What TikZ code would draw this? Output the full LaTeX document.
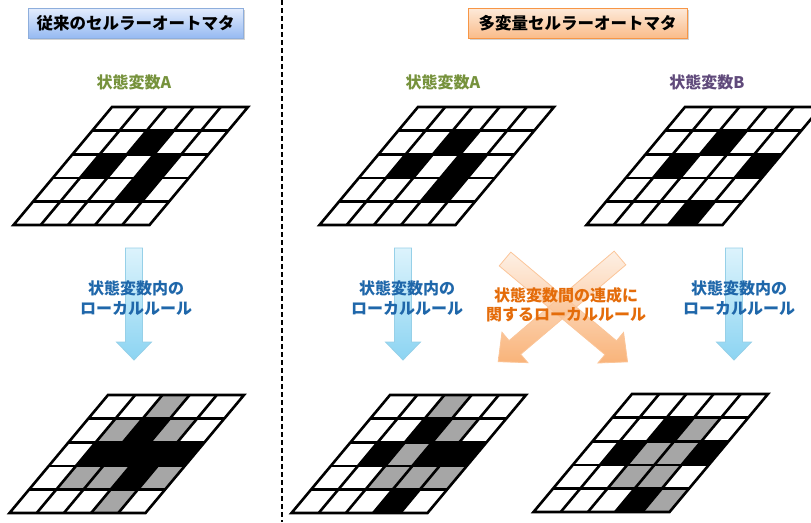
\documentclass[tikz,border=0pt]{standalone}
\usepackage{fontspec}
\newfontfamily\jpfont{Noto Sans CJK JP}
\usetikzlibrary{shadows}

\definecolor{varA}{RGB}{118,146,60}
\definecolor{varB}{RGB}{96,74,123}
\definecolor{cellgray}{RGB}{166,166,166}
\definecolor{ruleblue}{RGB}{31,103,170}
\definecolor{ruleorange}{RGB}{228,108,10}
\definecolor{blueline}{RGB}{142,174,220}
\definecolor{orangeline}{RGB}{247,150,70}

\tikzset{
  titlebox/.style={
    rectangle,
    line width=0.8pt,
    minimum height=30pt,
    inner sep=0pt,
    font=\jpfont\bfseries\fontsize{16.5}{20}\selectfont,
    drop shadow={opacity=.35, shadow xshift=1.5pt, shadow yshift=-2pt}},
  varlabel/.style={font=\jpfont\bfseries\fontsize{16}{19}\selectfont},
  rulelabel/.style={align=center, font=\jpfont\bfseries\fontsize{16}{19.5}\selectfont},
  gridline/.style={line width=2.6pt},
  divider/.style={line width=2pt, dash pattern=on 5pt off 3pt},
  inrule/.style={
    draw={rgb,255:red,150;green,208;blue,232}, line width=.8pt,
    top color={rgb,255:red,220;green,243;blue,252},
    bottom color={rgb,255:red,140;green,212;blue,242}},
  crossrule/.style={
    draw=orangeline!55, line width=.8pt,
    top color=orangeline!18, bottom color=orangeline!90,
    fill opacity=.8},
  % length, shaft width, head width, head length
  pics/blockarrow/.style n args={4}{code={
    \path[pic actions] (0,-#2/2) -- (#1-#4,-#2/2) -- (#1-#4,-#3/2) -- (#1,0)
      -- (#1-#4,#3/2) -- (#1-#4,#2/2) -- (0,#2/2) -- cycle;
  }},
}

% #1,#2 top left corner, #3 black cells, #4 gray cells (row/column)
\newcommand{\cellgrid}[4]{%
  \begin{scope}[shift={(#1,#2)}, x={(27.2pt,0pt)}, y={(-19.7pt,-23.6pt)}]
    \foreach \rr/\cc in {#3}
      \fill[black] (\cc-1,\rr-1) -- (\cc,\rr-1) -- (\cc,\rr) -- (\cc-1,\rr) -- cycle;
    \if\relax\detokenize{#4}\relax\else
    \foreach \rr/\cc in {#4}
      \fill[cellgray] (\cc-1,\rr-1) -- (\cc,\rr-1) -- (\cc,\rr) -- (\cc-1,\rr) -- cycle;
    \fi
    \foreach \i in {1,...,4} {
      \draw[gridline] (\i,0) -- (\i,5);
      \draw[gridline] (0,\i) -- (5,\i);
    }
    \draw[gridline] (0,0) -- (5,0) -- (5,5) -- (0,5) -- cycle;
  \end{scope}}

\begin{document}
\begin{tikzpicture}[x=1pt, y=-1pt]
\useasboundingbox (0,0) rectangle (811,522);

% dividing line
\coordinate (divtop) at (282,0);
\coordinate (divbot) at (282,522);
\draw[divider] (divtop) -- (divbot);

% titles
\node[titlebox, draw=blueline, top color={rgb,255:red,228;green,237;blue,253},
      bottom color={rgb,255:red,150;green,186;blue,242},
      minimum width=215pt] (classic) at (135.5,23) {従来のセルラーオートマタ};
\node[titlebox, draw=orangeline, top color={rgb,255:red,253;green,234;blue,218},
      bottom color={rgb,255:red,250;green,188;blue,138},
      minimum width=219pt] (multi) at (577.5,23) {多変量セルラーオートマタ};

% state variables
\node[varlabel, text=varA] (varAone) at (134,82) {状態変数A};
\node[varlabel, text=varA] (varAtwo) at (443,82) {状態変数A};
\node[varlabel, text=varB] (varBtwo) at (707,82) {状態変数B};

% grids before
\cellgrid{112}{107}{2/3,3/2,3/4,4/4}{}
\cellgrid{418}{107}{2/3,3/2,3/4,4/4}{}
\cellgrid{685}{107}{2/3,3/2,3/5,5/4}{}

% local rules
\pic[inrule, rotate=-90] (ruleAone) at (134,248) {blockarrow={112}{17}{35}{18}};
\pic[inrule, rotate=-90] (ruleAtwo) at (403,248) {blockarrow={112}{17}{35}{18}};
\pic[inrule, rotate=-90] (ruleBtwo) at (734,248) {blockarrow={112}{17}{35}{18}};
\pic[crossrule, rotate=-40] (crossAB) at (505,259) {blockarrow={160}{18}{40}{22}};
\pic[crossrule, rotate=-139.6] (crossBA) at (620,258) {blockarrow={160}{18}{40}{22}};

\node[rulelabel, text=ruleblue] (ruleAonetext) at (136,298) {状態変数内の\\ローカルルール};
\node[rulelabel, text=ruleblue] (ruleAtwotext) at (407,298) {状態変数内の\\ローカルルール};
\node[rulelabel, text=ruleblue] (ruleBtwotext) at (739,298) {状態変数内の\\ローカルルール};
\node[rulelabel, text=ruleorange] (crosstext) at (566,305) {状態変数間の連成に\\関するローカルルール};

% grids after
\cellgrid{108}{395}{2/3,3/2,3/3,3/4,3/5,4/4}{1/3,2/2,2/4,4/2,4/3,4/5,5/4}
\cellgrid{390}{395}{2/3,3/2,3/4,3/5,5/4}{1/3,2/4,3/3,4/3,4/4,4/5}
\cellgrid{632}{394}{2/3,3/2,3/5,5/4}{2/4,3/3,3/4,4/3,4/4,5/5}

\end{tikzpicture}
\end{document}
